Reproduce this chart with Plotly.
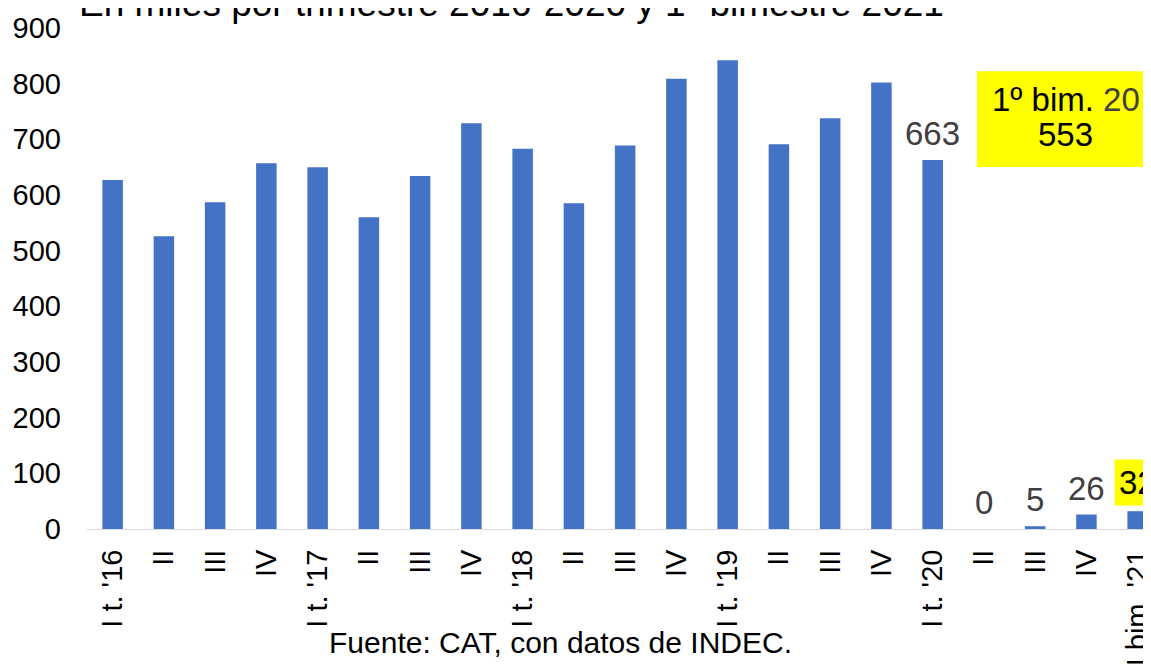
import plotly.graph_objects as go

FONT = "Liberation Sans, Arial, sans-serif"
BAR_BLUE = "#4472C4"
GREY_TXT = "#404040"
YELLOW = "#FFFF00"

# data
quarters = ["I t. '16", "II", "III", "IV",
            "I t. '17", "II", "III", "IV",
            "I t. '18", "II", "III", "IV",
            "I t. '19", "II", "III", "IV",
            "I t. '20", "II", "III", "IV",
            "I bim. '21"]
values = [627, 526, 587, 657,
          650, 560, 634, 729,
          683, 585, 689, 809,
          842, 691, 738, 802,
          663, 0, 5, 26,
          32]
labelled = [16, 17, 18, 19, 20]          # bars with a value label
highlighted = [20]                        # label on yellow
y_ticks = [0, 100, 200, 300, 400, 500, 600, 700, 800, 900]
bim_2020 = 553

x_pos = list(range(len(quarters)))

fig = go.Figure(go.Bar(x=x_pos, y=values, marker_color=BAR_BLUE,
                       marker_line_width=0, hoverinfo="skip"))

for i in labelled:
    hi = i in highlighted
    fig.add_annotation(x=i, y=values[i], xref="x", yref="y",
                       text=str(values[i]), showarrow=False,
                       xanchor="center", yanchor="bottom",
                       yshift=5 if hi else 7,
                       bgcolor=YELLOW if hi else None,
                       borderpad=4 if hi else 0,
                       font=dict(size=33, color="black" if hi else GREY_TXT))

# yellow box: first two months of 2020
fig.add_shape(type="rect", xref="paper", yref="paper",
              x0=0.8364, x1=1.01, y0=0.7227, y1=0.9135,
              fillcolor=YELLOW, line_width=0, layer="above")
fig.add_annotation(xref="paper", yref="paper", x=0.92, y=0.8577,
                   text=f"1º bim. <span style='color:{GREY_TXT}'>20</span>",
                   showarrow=False, xanchor="center", yanchor="middle",
                   font=dict(size=33, color="black"))
fig.add_annotation(xref="paper", yref="paper", x=0.92, y=0.788,
                   text=str(bim_2020), showarrow=False,
                   xanchor="center", yanchor="middle",
                   font=dict(size=33, color="black"))

# title (cut at the top) and source
fig.add_annotation(xref="paper", yref="paper", x=0.399, y=1.003,
                   xanchor="center", yanchor="bottom",
                   text="En miles por trimestre 2016-2020 y 1º bimestre 2021",
                   showarrow=False, font=dict(size=37, color="black"))
fig.add_annotation(xref="paper", yref="paper", x=0.445, y=-0.2266,
                   xanchor="center", yanchor="middle",
                   text="Fuente: CAT, con datos de INDEC.",
                   showarrow=False, font=dict(size=30, color="black"))

# page body has an 8px margin, so the figure is drawn 8px smaller
fig.update_layout(
    width=1143, height=656,
    margin=dict(l=79, r=0, t=20, b=135, pad=0),
    paper_bgcolor="white", plot_bgcolor="white",
    font=dict(family=FONT, size=29, color="black"),
    showlegend=False, bargap=0.6,
    xaxis=dict(range=[-0.5, 20.26], tickmode="array", tickvals=x_pos,
               ticktext=quarters, tickangle=-90, showgrid=False,
               zeroline=False, showline=True, linecolor="#D9D9D9",
               linewidth=1, ticks="", ticklabelstandoff=8,
               ticklabeloverflow="allow",
               automargin=False, fixedrange=True),
    yaxis=dict(range=[0, 900], tickmode="array", tickvals=y_ticks,
               showgrid=False, zeroline=False, showline=False, ticks="",
               ticklabelstandoff=25, automargin=False, fixedrange=True),
)

fig.write_html("out.html", config={"displayModeBar": False})
